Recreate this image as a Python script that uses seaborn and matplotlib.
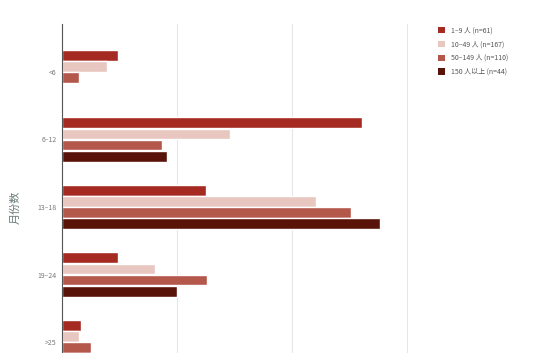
import matplotlib
matplotlib.use("Agg")
import matplotlib.pyplot as plt
import seaborn as sns
import pandas as pd
from matplotlib.patches import Patch

sns.set_theme(style="white")
plt.rcParams['font.family'] = ['Noto Sans CJK SC', 'DejaVu Sans']

categories = ["<6", "6–12", "13–18", "19–24", ">25"]
series_names = ["1–9 人 (n=61)", "10–49 人 (n=167)", "50–149 人 (n=110)", "150 人以上 (n=44)"]
s1 = [9.8, 52.2, 25.0, 9.8, 3.3]
s2 = [7.8, 29.2, 44.2, 16.2, 3.0]
s3 = [3.0, 17.3, 50.2, 25.2, 5.0]
s4 = [0.0, 18.2, 55.2, 20.0, 6.8]
colors = ["#a52a22", "#e8c7c1", "#b5584c", "#5a1309"]

rows = []
for name, vals in zip(series_names, [s1, s2, s3, s4]):
    for c, v in zip(categories, vals):
        rows.append({"cat": c, "group": name, "val": v})
df = pd.DataFrame(rows)

fig = plt.figure(figsize=(5.5, 3.53), dpi=100)
ax = fig.add_axes([62/550, 1-390/353, (408-62)/550, (390-24)/353])
sns.barplot(data=df, y="cat", x="val", hue="group", order=categories,
            hue_order=series_names, palette=colors, orient="h",
            width=0.66, gap=0.04, ax=ax, legend=False, saturation=1)

ax.set_xlim(0, 60.15)
ax.set_ylim(4.71, -0.71)
ax.set_xticks([0, 20, 40, 60])
ax.set_xticklabels([])
ax.tick_params(axis="x", length=0)
ax.grid(axis="x", color="#e6e6e6", linewidth=0.8)
ax.set_axisbelow(True)
for s in ["top", "right", "bottom"]:
    ax.spines[s].set_visible(False)
ax.spines["left"].set_color("#555555")
ax.spines["left"].set_linewidth(0.8)
ax.tick_params(axis="y", length=0, labelsize=5, labelcolor="#777777", pad=4)
ax.set_xlabel("")
ax.set_ylabel("月份数", fontsize=8, color="#6a7a7a", labelpad=12)

handles = [Patch(facecolor=c, edgecolor="none") for c in colors]
fig.legend(handles, series_names, loc="upper left", bbox_to_anchor=(432/550, 1-20/353),
           frameon=False, fontsize=5, handlelength=1.0, handleheight=1.0,
           labelspacing=0.85, handletextpad=0.8, labelcolor="#555555")

fig.savefig("out.png", dpi=100)
